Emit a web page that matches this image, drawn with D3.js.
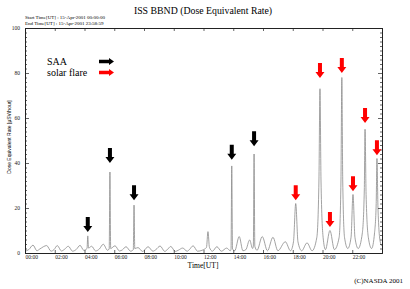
<!DOCTYPE html>
<html><head><meta charset="utf-8">
<script src="https://cdn.jsdelivr.net/npm/d3@7"></script>
<style>html,body{margin:0;padding:0;background:#fff;}svg{display:block;}</style>
</head><body>
<svg id="chart" width="410" height="289"></svg>
<script>
// ---- data ----
const hours = [0.00,0.25,0.54,0.80,1.00,1.46,1.75,1.95,2.17,2.45,2.65,2.91,3.20,3.45,3.70,3.95,4.17,4.22,4.27,4.48,4.75,5.00,5.26,5.55,5.66,5.71,5.76,6.05,6.35,6.55,6.79,7.10,7.28,7.33,7.38,7.60,7.90,8.05,8.27,8.60,8.80,9.08,9.40,9.55,9.80,10.10,10.30,10.60,10.90,11.05,11.30,11.60,11.90,12.20,12.30,12.40,12.60,12.90,13.20,13.56,13.80,13.85,13.90,13.95,14.10,14.40,14.65,14.85,15.10,15.30,15.35,15.40,15.45,15.60,15.95,16.30,16.67,17.00,17.50,17.85,18.05,18.20,18.35,18.60,18.96,19.30,19.62,19.76,19.83,19.90,20.04,20.20,20.50,20.80,21.12,21.24,21.30,21.36,21.48,21.70,21.92,22.05,22.18,22.40,22.68,22.81,22.86,22.93,23.08,23.30,23.50,23.61,23.66,23.73,23.88,24.00];
const dose  = [0.8,1.5,3.5,1.0,1.8,3.3,0.8,1.5,3.3,0.9,1.6,3.0,0.8,1.6,3.4,1.2,2.0,7.6,2.2,3.0,0.9,1.8,3.9,1.2,1.8,36.0,2.0,3.2,0.9,1.4,2.8,0.8,1.5,21.3,2.0,2.4,0.7,1.4,2.8,0.8,1.5,3.1,0.7,1.4,2.9,0.7,1.2,2.2,0.8,1.5,3.2,0.8,1.2,2.5,9.5,2.5,0.8,2.8,0.8,2.2,1.0,1.6,38.7,1.8,1.0,7.3,1.0,1.5,5.8,2.0,3.0,44.0,3.0,1.2,7.3,1.0,7.0,1.0,5.0,1.0,5.0,22.0,5.0,1.0,4.5,1.0,7.0,32.0,73.0,32.0,7.0,1.5,10.0,1.5,7.0,32.0,78.0,32.0,7.0,2.0,7.0,26.0,7.0,2.0,9.0,28.0,55.0,26.0,7.0,2.0,9.0,22.0,42.0,20.0,5.0,3.0];
const saaArrows   = [[4.22,9.3],[5.71,40.0],[7.33,23.5],[13.9,41.5],[15.4,47.5]];
const flareArrows = [[18.2,23.5],[19.83,77.8],[20.5,11.6],[21.3,80.0],[22.05,27.5],[22.86,57.8],[23.66,43.5]];
const xTicks = [0,2,4,6,8,10,12,14,16,18,20,22];
const xTickLabels = ["00:00","02:00","04:00","06:00","08:00","10:00","12:00","14:00","16:00","18:00","20:00","22:00"];
const yTicks = [0,20,40,60,80,100];
const legendItems = ["SAA","solar flare"];
const legendColors = ["#000","#f00"];

// ---- drawing ----
const svg = d3.select("#chart");
const x = d3.scaleLinear().domain([0,24]).range([25,382]);
const y = d3.scaleLinear().domain([0,100]).range([253,28]);
const serif = "'Liberation Serif','Times New Roman',serif";
const sans = "'Liberation Sans',Arial,sans-serif";

// data line
const pts = hours.map((h,i)=>[h,dose[i]]);
svg.append("path").datum(pts)
  .attr("fill","none").attr("stroke","#8a8a8a").attr("stroke-width",0.8)
  .attr("d", d3.line().x(d=>x(d[0])).y(d=>y(d[1])).curve(d3.curveMonotoneX));

// axes
const minorY = d3.range(0,101,2).filter(v=>v%20!==0);
function styleAxis(g){ g.select(".domain").attr("stroke","#222").attr("stroke-width",1);
  g.selectAll(".tick line").attr("stroke","#222").attr("stroke-width",0.7); }

const gB = svg.append("g").attr("transform",`translate(0,${y(0)})`)
  .call(d3.axisBottom(x).tickValues(xTicks).tickSize(-3).tickPadding(2.5).tickFormat((d,i)=>xTickLabels[i]));
styleAxis(gB);
gB.selectAll("text").attr("text-anchor","start").attr("font-family",serif).attr("font-size",5.5).attr("fill","#222");

const gT = svg.append("g").attr("transform",`translate(0,${y(100)})`)
  .call(d3.axisTop(x).tickValues(xTicks.concat([24])).tickSize(-3).tickFormat(""));
styleAxis(gT);

const gL = svg.append("g").attr("transform",`translate(${x(0)},0)`)
  .call(d3.axisLeft(y).tickValues(yTicks).tickSize(-4).tickPadding(5).tickFormat(d3.format("d")));
styleAxis(gL);
gL.selectAll("text").attr("font-family",serif).attr("font-size",5.5).attr("fill","#222");
svg.append("g").attr("transform",`translate(${x(0)},0)`)
  .call(d3.axisLeft(y).tickValues(minorY).tickSize(-2).tickFormat("")).call(styleAxis)
  .select(".domain").remove();

const gR = svg.append("g").attr("transform",`translate(${x(24)},0)`)
  .call(d3.axisRight(y).tickValues(yTicks).tickSize(-4).tickFormat(""));
styleAxis(gR);
svg.append("g").attr("transform",`translate(${x(24)},0)`)
  .call(d3.axisRight(y).tickValues(minorY).tickSize(-2).tickFormat("")).call(styleAxis)
  .select(".domain").remove();

// down arrows
function downArrow(cx, tipY){
  const hw=4.5, sw=2, hh=6, L=15;
  return `M${cx},${tipY} L${cx-hw},${tipY-hh} L${cx-sw},${tipY-hh} L${cx-sw},${tipY-L} L${cx+sw},${tipY-L} L${cx+sw},${tipY-hh} L${cx+hw},${tipY-hh} Z`;
}
svg.selectAll(".saa").data(saaArrows).join("path").attr("fill","#000")
  .attr("d",d=>downArrow(x(d[0]),y(d[1])));
svg.selectAll(".flare").data(flareArrows).join("path").attr("fill","#f00")
  .attr("d",d=>downArrow(x(d[0]),y(d[1])));

// legend
legendItems.forEach((t,i)=>{
  const by = 65 + i*11;
  svg.append("text").attr("x",47).attr("y",by).text(t)
    .attr("font-family",serif).attr("font-size",10).attr("fill","#000");
  const ax=99, ay=by-3.5, L=15, hl=5, hh=3.4, sh=1.7;
  svg.append("path").attr("fill",legendColors[i])
    .attr("d",`M${ax},${ay-sh} L${ax+L-hl},${ay-sh} L${ax+L-hl},${ay-hh} L${ax+L},${ay} L${ax+L-hl},${ay+hh} L${ax+L-hl},${ay+sh} L${ax},${ay+sh} Z`);
});

// texts
svg.append("text").attr("x",203).attr("y",13.5).attr("text-anchor","middle")
  .attr("font-family",serif).attr("font-size",9.8).attr("fill","#000").text("ISS BBND (Dose Equivalent Rate)");
svg.append("text").attr("x",25).attr("y",18.5).attr("font-family",serif).attr("font-size",5)
  .attr("fill","#000").text("Start Time[UT] : 15-Apr-2001 00:00:00");
svg.append("text").attr("x",25).attr("y",25).attr("font-family",serif).attr("font-size",5)
  .attr("fill","#000").text("End  Time[UT] : 15-Apr-2001 23:58:59");
svg.append("text").attr("x",203).attr("y",267.5).attr("text-anchor","middle")
  .attr("font-family",serif).attr("font-size",7.6).attr("fill","#000").text("Time[UT]");
svg.append("text").attr("x",403).attr("y",283).attr("text-anchor","end")
  .attr("font-family",serif).attr("font-size",7).attr("fill","#000").text("(C)NASDA 2001");
svg.append("text").attr("transform","translate(11,137) rotate(-90)").attr("text-anchor","middle")
  .attr("font-family",sans).attr("font-size",5).attr("fill","#000").text("Dose Equivalent Rate [μSV/hour]");
</script>
</body></html>
